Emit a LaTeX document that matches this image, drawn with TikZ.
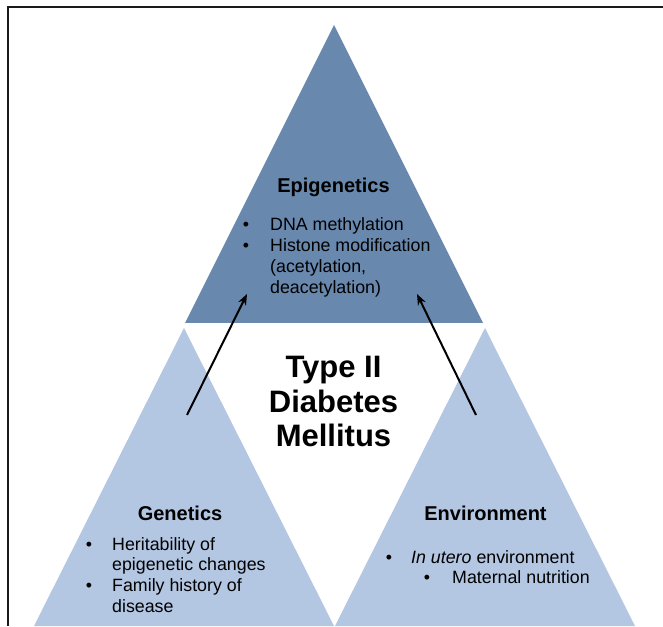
\documentclass[tikz,border=0pt]{standalone}
\usepackage{fontspec}
\setmainfont{Liberation Sans}
\usetikzlibrary{arrows.meta}

\definecolor{epiblue}{HTML}{6888AE}
\definecolor{lowblue}{HTML}{B3C6E2}
\definecolor{framegray}{HTML}{1A1A1A}

\begin{document}
\begin{tikzpicture}[x=1pt,y=1pt,
  head/.style={font=\fontsize{20}{24}\selectfont\bfseries, anchor=base, inner sep=0pt},
  item/.style={font=\fontsize{17.8}{21}\selectfont, anchor=base west, inner sep=0pt},
  dot/.style={font=\fontsize{17.8}{21}\selectfont, anchor=base, inner sep=0pt},
  bigtitle/.style={font=\fontsize{31}{35}\selectfont\bfseries, anchor=base, inner sep=0pt},
  link/.style={-{Stealth[length=11pt,width=8.5pt]}, line width=2pt, black}
]
\useasboundingbox (0,0) rectangle (663,626);

% page frame (top and left edges)
\draw[framegray, line width=1.5pt] (8,0) -- (8,619) -- (663,619);

% the three triangles
\fill[epiblue] (334,601) -- (483,303) -- (185,303) -- cycle;
\fill[lowblue] (184,298) -- (334,0) -- (34,0) -- cycle;
\fill[lowblue] (485,298) -- (635,0) -- (335,0) -- cycle;

% central title
\node[bigtitle] (t1) at (333.5,248) {Type II};
\node[bigtitle] (t2) at (333.5,213.5) {Diabetes};
\node[bigtitle] (t3) at (333.5,179) {Mellitus};

% epigenetics
\node[head] (epi) at (333.5,433) {Epigenetics};
\node[dot]  (e1b) at (246,395) {•};
\node[item] (e1)  at (270,395) {DNA methylation};
\node[dot]  (e2b) at (246,374) {•};
\node[item] (e2)  at (270,374) {Histone modification};
\node[item] (e3)  at (270,353) {(acetylation,};
\node[item] (e4)  at (270,332) {deacetylation)};

% genetics
\node[head] (gen) at (180,105) {Genetics};
\node[dot]  (g1b) at (89,76) {•};
\node[item] (g1)  at (112,76) {Heritability of};
\node[item] (g2)  at (112,56) {epigenetic changes};
\node[dot]  (g3b) at (89,35) {•};
\node[item] (g3)  at (112,35) {Family history of};
\node[item] (g4)  at (112,14) {disease};

% environment
\node[head] (env) at (485.5,106) {Environment};
\node[dot]  (v1b) at (389,63) {•};
\node[item] (v1)  at (411,63) {\textit{In utero} environment};
\node[dot]  (v2b) at (427,43) {•};
\node[item] (v2)  at (452,43) {Maternal nutrition};

% arrows from the lower triangles into epigenetics
\coordinate (genfoot)  at (187,211);
\coordinate (epileft)  at (247,332);
\coordinate (envfoot)  at (476,211);
\coordinate (epiright) at (417,332);
\draw[link] (genfoot) -- (epileft);
\draw[link] (envfoot) -- (epiright);
\end{tikzpicture}
\end{document}
